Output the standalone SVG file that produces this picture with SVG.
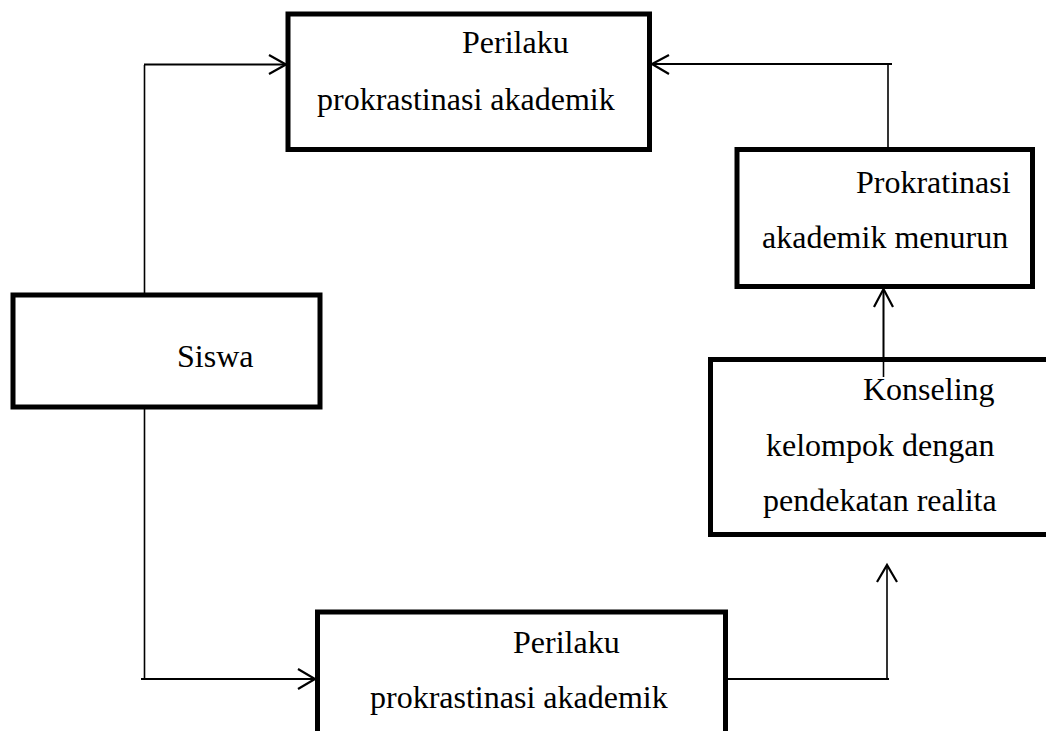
<svg xmlns="http://www.w3.org/2000/svg" width="1046" height="731" viewBox="0 0 1046 731">
<style>
.box{fill:#fff;stroke:#000;stroke-width:5;stroke-linejoin:miter}
.t{font-family:"Liberation Serif","Times New Roman",serif;font-size:32px;fill:#000}
.c{fill:none;stroke:#000;stroke-width:2}
.cv{fill:none;stroke:#000;stroke-width:1.6}
.ah{fill:none;stroke:#000;stroke-width:2.2;stroke-linejoin:miter}
</style>
<rect x="0" y="0" width="1046" height="731" fill="#fff"/>
<g id="connectors">
<path class="cv" d="M144.5,295 V65"/>
<path class="c" d="M144,64.5 H286"/>
<polyline class="ah" points="269,55 286,64.5 269,74"/>
<path class="cv" d="M888,149.5 V64"/>
<path class="c" d="M892,64 H652"/>
<polyline class="ah" points="669,55 652,64 669,74"/>
<path class="cv" d="M144.5,407 V679"/>
<path class="c" d="M141,679 H315"/>
<polyline class="ah" points="298,669 315,679 298,689"/>
<path class="c" d="M728,679 H889"/>
<path class="cv" d="M887,679 V566"/>
<polyline class="ah" points="877,582 887,565 897,582"/>
<path class="cv" d="M883.5,377 V290"/>
</g>
<g id="node-top">
<rect class="box" x="288" y="14" width="361.5" height="135.5"/>
<text class="t" x="462" y="53">Perilaku</text>
<text class="t" x="317" y="110">prokrastinasi akademik</text>
</g>
<g id="node-siswa">
<rect class="box" x="13" y="295" width="307" height="112"/>
<text class="t" x="177" y="367">Siswa</text>
</g>
<g id="node-bottom">
<rect class="box" x="317.5" y="612" width="408" height="130"/>
<text class="t" x="513" y="653">Perilaku</text>
<text class="t" x="370" y="708">prokrastinasi akademik</text>
</g>
<g id="node-menurun">
<rect class="box" x="737" y="149.5" width="295.5" height="137"/>
<text class="t" x="856" y="193">Prokratinasi</text>
<text class="t" x="762" y="248">akademik menurun</text>
</g>
<g id="node-konseling">
<rect class="box" x="710.5" y="359.5" width="345" height="175"/>
<text class="t" x="863" y="400">Konseling</text>
<text class="t" x="766" y="456">kelompok dengan</text>
<text class="t" x="763" y="511">pendekatan realita</text>
</g>
<g id="connectors-over">
<path class="cv" d="M883.5,377 V290"/>
<polyline class="ah" points="874,307 883.5,289 893,307"/>
</g>
</svg>
